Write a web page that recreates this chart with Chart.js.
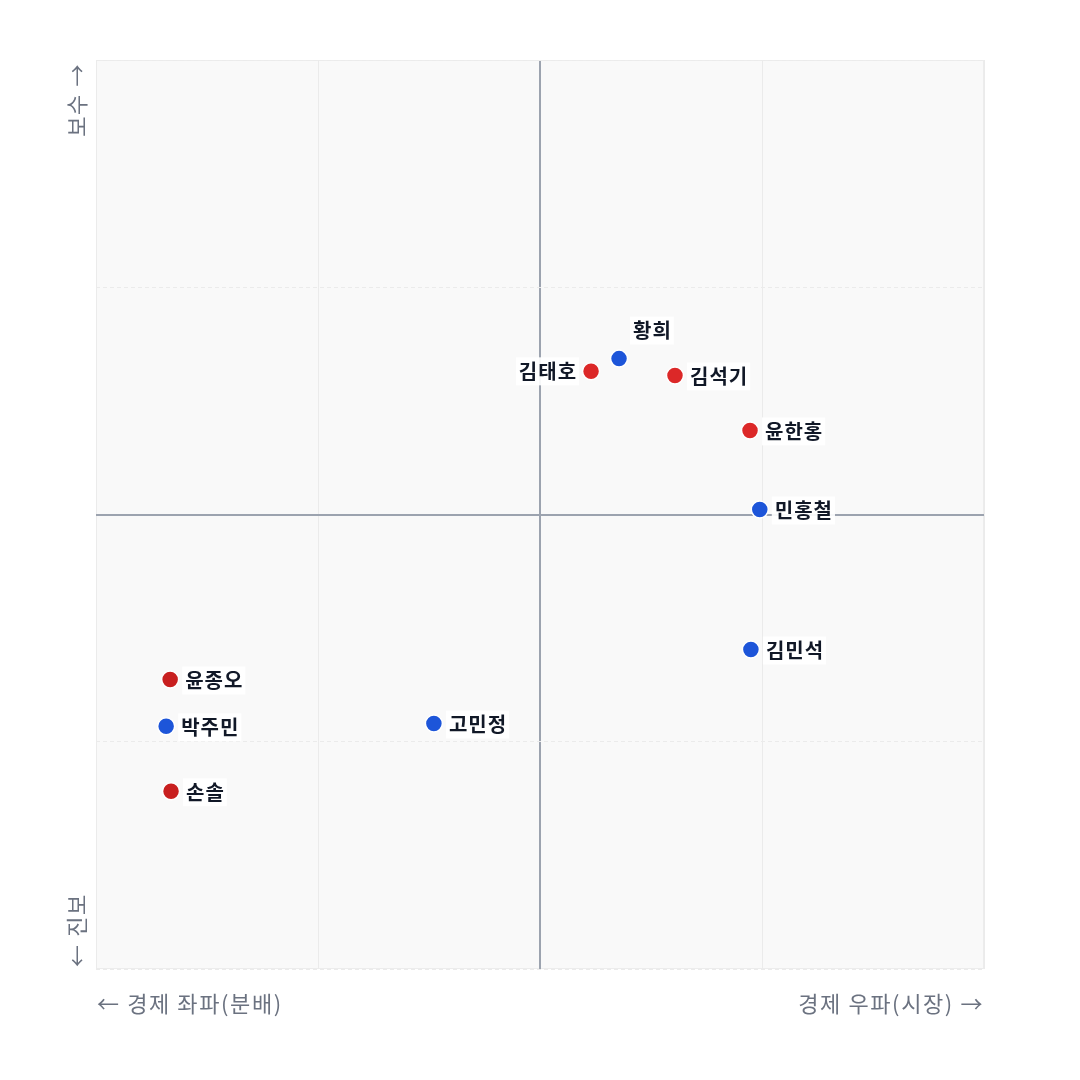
<!DOCTYPE html>
<html>
<head>
<meta charset="utf-8">
<script src="https://cdn.jsdelivr.net/npm/chart.js@4"></script>
<style>
 html, body { margin: 0; padding: 0; background: #ffffff; }
 #wrap { width: 1080px; height: 1080px; }
</style>
</head>
<body>
<div id="wrap"><canvas id="compassChart" width="1080" height="1080"></canvas></div>
<script>
// politicians on the economic (x) / social (y) compass
var names = ["황희", "김태호", "김석기", "윤한홍", "민홍철", "김민석", "고민정", "윤종오", "박주민", "손솔"];
var econValues = [1.78, 1.15, 3.04, 4.73, 4.95, 4.75, -2.39, -8.33, -8.42, -8.31];
var socialValues = [3.43, 3.15, 3.06, 1.85, 0.11, -2.97, -4.6, -3.63, -4.66, -6.09];
var parties = ["blue", "red", "red", "red", "blue", "blue", "blue", "darkred", "blue", "darkred"];
var axisTicks = [-10, -5, 0, 5, 10];
var xAxisLabels = ["← 경제 좌파(분배)", "경제 우파(시장) →"];
var yAxisLabels = ["보수 →", "← 진보"];

var partyColors = {
 blue: "#1d55d9",
 red: "#dc2828",
 darkred: "#c81f1f",
};

// where each name sits relative to its dot
var labelSide = {
 "황희": "topright",
 "김태호": "left",
};

var FONT = "'Noto Sans CJK KR', 'Noto Sans', sans-serif";

var points = names.map(function (n, i) {
 return { x: econValues[i], y: socialValues[i], name: n };
});

var plotBackground = {
 id: "plotBackground",
 beforeDraw: function (chart) {
  var a = chart.chartArea;
  var ctx = chart.ctx;
  ctx.save();
  ctx.fillStyle = "#f9f9f9";
  ctx.fillRect(a.left, a.top, a.right - a.left, a.bottom - a.top);
  ctx.strokeStyle = "#ececec";
  ctx.lineWidth = 1;
  ctx.strokeRect(a.left + 0.5, a.top + 0.5, a.right - a.left - 1, a.bottom - a.top - 1);
  ctx.restore();
 },
};

var axisWords = {
 id: "axisWords",
 afterDraw: function (chart) {
  var a = chart.chartArea;
  var ctx = chart.ctx;
  ctx.save();
  ctx.fillStyle = "#6b7280";
  ctx.font = "22px " + FONT;
  ctx.letterSpacing = "1.6px";
  ctx.textBaseline = "middle";
  ctx.textAlign = "left";
  ctx.fillText(xAxisLabels[0], a.left + 1, a.bottom + 35);
  ctx.textAlign = "right";
  ctx.fillText(xAxisLabels[1], a.right, a.bottom + 35);

  ctx.translate(a.left - 19, 0);
  ctx.rotate(-Math.PI / 2);
  ctx.textAlign = "right";
  ctx.fillText(yAxisLabels[0], -a.top - 3, 0);
  ctx.textAlign = "left";
  ctx.fillText(yAxisLabels[1], -a.bottom + 2, 0);
  ctx.restore();
 },
};

var nameTags = {
 id: "nameTags",
 afterDatasetsDraw: function (chart) {
  var ctx = chart.ctx;
  var meta = chart.getDatasetMeta(0);
  ctx.save();
  ctx.font = "bold 20px " + FONT;
  ctx.letterSpacing = "1px";
  ctx.textBaseline = "middle";
  meta.data.forEach(function (el, i) {
   var text = names[i];
   var w = ctx.measureText(text).width;
   var side = labelSide[text] || "right";
   var tx, ty;
   if (side === "left") {
    tx = el.x - 14 - w;
    ty = el.y;
   } else if (side === "topright") {
    tx = el.x + 14;
    ty = el.y - 28;
   } else {
    tx = el.x + 15;
    ty = el.y + 1;
   }
   ctx.fillStyle = "rgba(255,255,255,0.92)";
   ctx.fillRect(tx - 3, ty - 14, w + 5, 28);
   ctx.fillStyle = "#111827";
   ctx.textAlign = "left";
   ctx.fillText(text, tx, ty);
  });
  ctx.restore();
 },
};

function gridColor(c) {
 return c.tick && c.tick.value === 0 ? "#9ca3af" : "#ebebeb";
}
function gridWidth(c) {
 return c.tick && c.tick.value === 0 ? 2 : 1;
}

var chartDiv = document.getElementById("compassChart");

new Chart(chartDiv, {
 type: "scatter",
 data: {
  datasets: [
   {
    label: "의원",
    data: points,
    backgroundColor: parties.map(function (p) { return partyColors[p]; }),
    borderColor: "#ffffff",
    borderWidth: 1.5,
    pointRadius: 8.5,
    pointHoverRadius: 8.5,
   },
  ],
 },
 options: {
  responsive: false,
  animation: false,
  devicePixelRatio: 1,
  layout: {
   padding: { left: 96, top: 60, right: 96, bottom: 111 },
  },
  plugins: {
   legend: { display: false },
   tooltip: { enabled: false },
  },
  scales: {
   x: {
    type: "linear",
    min: axisTicks[0],
    max: axisTicks[axisTicks.length - 1],
    afterBuildTicks: function (s) {
     s.ticks = axisTicks.map(function (v) { return { value: v }; });
    },
    ticks: { display: false },
    grid: { color: gridColor, lineWidth: gridWidth, drawTicks: false },
    border: { display: false },
   },
   y: {
    type: "linear",
    min: axisTicks[0],
    max: axisTicks[axisTicks.length - 1],
    afterBuildTicks: function (s) {
     s.ticks = axisTicks.map(function (v) { return { value: v }; });
    },
    ticks: { display: false },
    grid: { color: gridColor, lineWidth: gridWidth, drawTicks: false },
    border: {
     display: false,
     dash: function (c) {
      return c.tick && c.tick.value === 0 ? [] : [4, 3];
     },
    },
   },
  },
 },
 plugins: [plotBackground, axisWords, nameTags],
});
</script>
</body>
</html>
